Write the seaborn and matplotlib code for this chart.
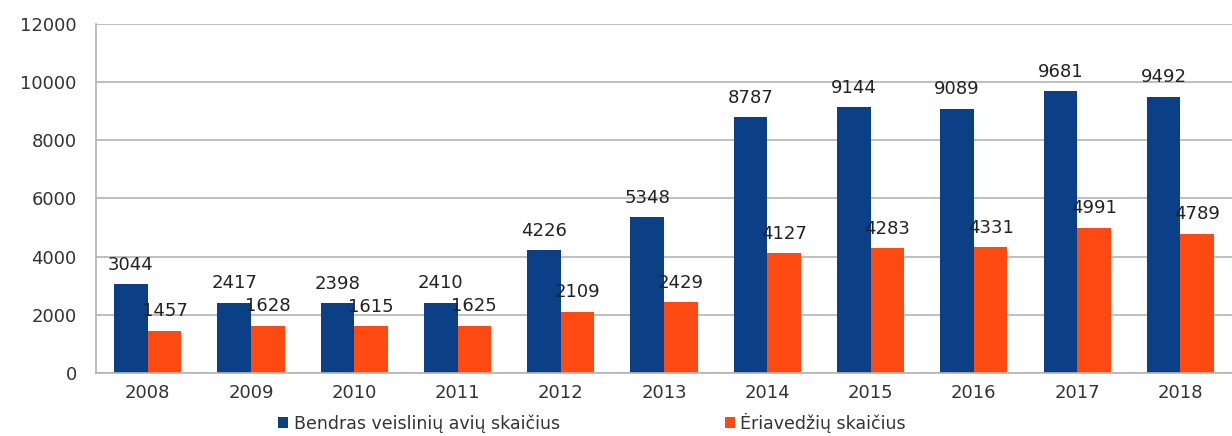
import numpy as np
import pandas as pd
import matplotlib
matplotlib.use("Agg")
import matplotlib.pyplot as plt
import seaborn as sns

years = ["2008", "2009", "2010", "2011", "2012", "2013",
         "2014", "2015", "2016", "2017", "2018"]
total_sheep = [3044, 2417, 2398, 2410, 4226, 5348, 8787, 9144, 9089, 9681, 9492]
ewes = [1457, 1628, 1615, 1625, 2109, 2429, 4127, 4283, 4331, 4991, 4789]
series_names = ["Bendras veislinių avių skaičius", "Ėriavedžių skaičius"]
colors = ["#0b3f86", "#fd4a13"]

df = pd.DataFrame({
    "year": years * 2,
    "value": total_sheep + ewes,
    "series": [series_names[0]] * len(years) + [series_names[1]] * len(years),
})

sns.set_style("white")
plt.rcParams["font.family"] = ["DejaVu Sans"]

fig = plt.figure(figsize=(12.32, 4.36), dpi=100)
ax = fig.add_axes([0.078, 0.1445, 0.922, 0.8005])

sns.barplot(data=df, x="year", y="value", hue="series", palette=colors,
            width=0.65, gap=0, saturation=1, linewidth=0, ax=ax, legend=True)

ax.set_ylim(0, 12000)
ax.set_xlim(-0.5, len(years) - 0.5)
ax.set_yticks(np.arange(0, 12001, 2000))
ax.yaxis.grid(True, color="#b4b4b4", linewidth=1.2)
ax.set_axisbelow(True)
ax.set_xlabel("")
ax.set_ylabel("")

for side in ["top", "right"]:
    ax.spines[side].set_visible(False)
for side in ["left", "bottom"]:
    ax.spines[side].set_color("#b4b4b4")
    ax.spines[side].set_linewidth(1.2)

ax.tick_params(axis="y", length=6, color="#b4b4b4", labelsize=13,
               labelcolor="#333333", pad=8)
ax.tick_params(axis="x", which="major", length=0, labelsize=13,
               labelcolor="#333333", pad=8)
ax.set_xticks(np.arange(-0.5, len(years), 1.0), minor=True)
ax.tick_params(axis="x", which="minor", length=5, color="#b4b4b4")

for cont in ax.containers:
    for bar in cont:
        h = bar.get_height()
        ax.annotate(f"{int(round(h))}", (bar.get_x() + bar.get_width() / 2, h),
                    xytext=(0, 14), textcoords="offset points",
                    ha="center", va="center", fontsize=13, color="#222222")

handles, labels = ax.get_legend_handles_labels()
ax.legend_.remove()
fig.legend(handles, labels, loc="lower left", bbox_to_anchor=(0.213, -0.028),
           ncol=2, frameon=False, fontsize=12.5, handlelength=0.6,
           handleheight=0.6, handletextpad=0.3, columnspacing=9.5,
           labelcolor="#333333")

fig.savefig("out.png", dpi=100)
